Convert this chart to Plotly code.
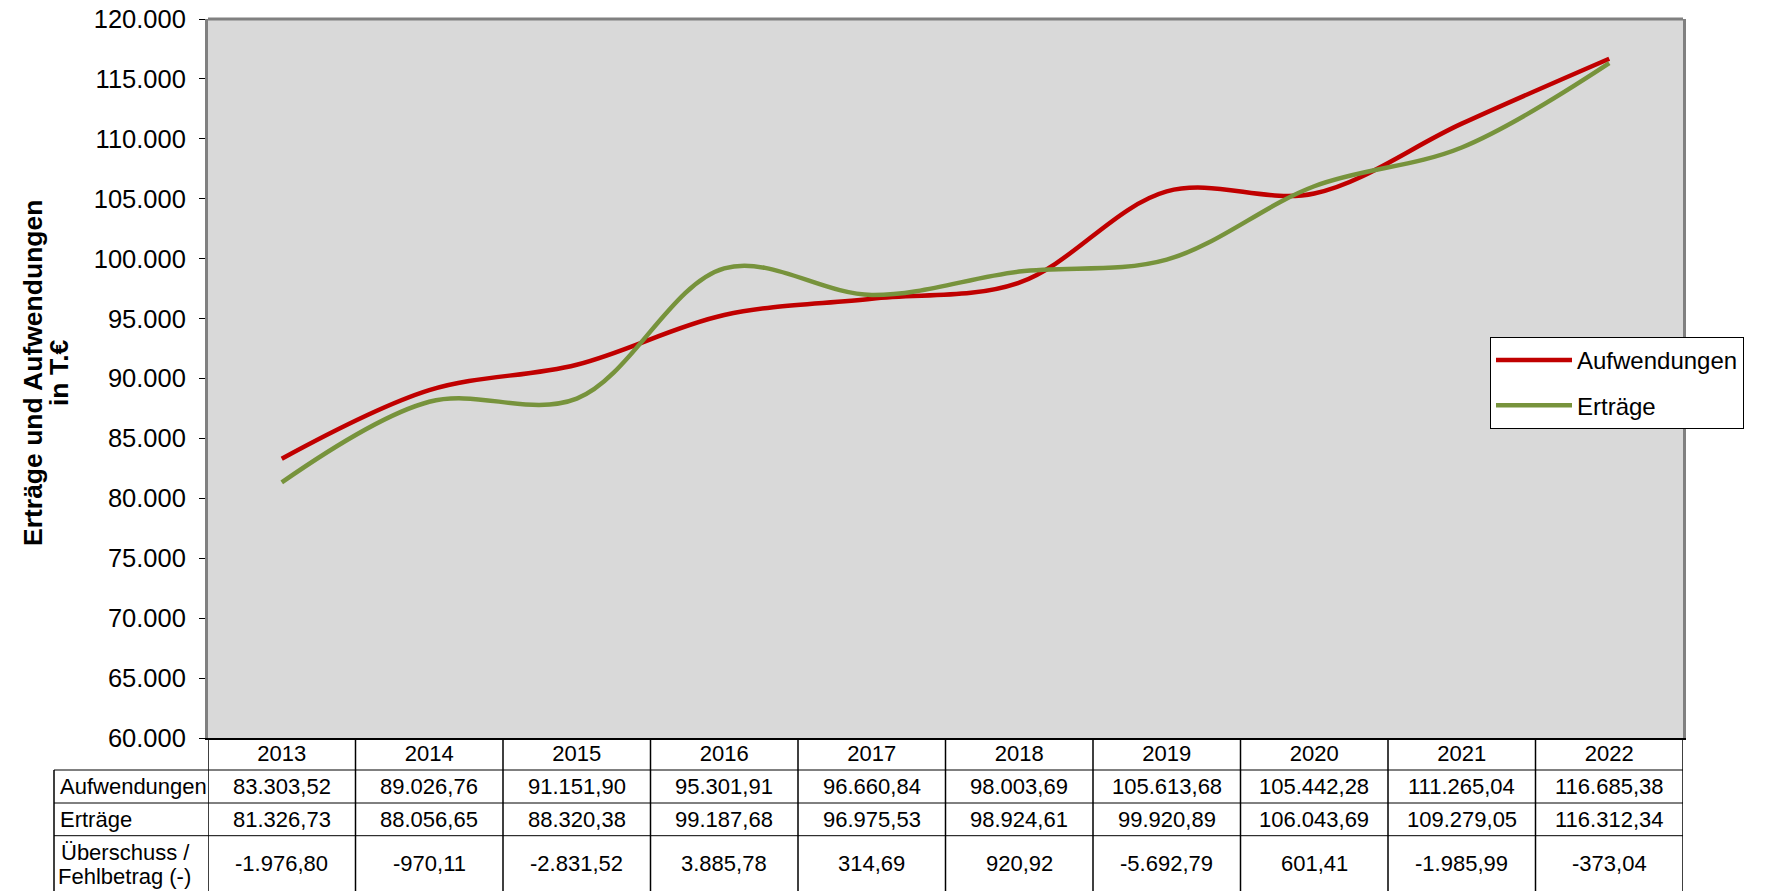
import plotly.graph_objects as go

jahre = ["2013", "2014", "2015", "2016", "2017", "2018", "2019", "2020", "2021", "2022"]
aufwendungen = [83303.52, 89026.76, 91151.90, 95301.91, 96660.84,
                98003.69, 105613.68, 105442.28, 111265.04, 116685.38]
ertraege = [81326.73, 88056.65, 88320.38, 99187.68, 96975.53,
            98924.61, 99920.89, 106043.69, 109279.05, 116312.34]
saldo = [-1976.80, -970.11, -2831.52, 3885.78, 314.69,
         920.92, -5692.79, 601.41, -1985.99, -373.04]

FONT = "Arial, Liberation Sans, sans-serif"
OFF = 8  # page body margin
W, H = 1765 - OFF, 891 - OFF
L, T = 200, 11
PW, PH = 1475, 719
R, B = W - L - PW, H - T - PH


def px_x(p):
    # reference pixel column -> paper x
    return (p - OFF - L) / PW


def px_y(p):
    # reference pixel row -> paper y
    return (T + PH - (p - OFF)) / PH


def de(v):
    s = f"{v:,.2f}"
    return s.replace(",", "X").replace(".", ",").replace("X", ".")


fig = go.Figure()
fig.add_trace(go.Scatter(
    x=jahre, y=aufwendungen, name="Aufwendungen", mode="lines",
    line=dict(color="#C00000", width=4.5, shape="spline", smoothing=1.0),
    legendgroup="a",
))
fig.add_trace(go.Scatter(
    x=jahre, y=ertraege, name="Erträge", mode="lines",
    line=dict(color="#77933C", width=4.5, shape="spline", smoothing=1.0),
    legendgroup="e",
))

shapes = []
# top border of the plot area
shapes.append(dict(type="line", xref="x domain", yref="y domain", x0=0, x1=1, y0=1, y1=1,
                   line=dict(color="#808080", width=3)))

# table grid
for yp in [770, 803, 835.7]:
    shapes.append(dict(type="line", xref="paper", yref="paper", x0=px_x(54), x1=1,
                       y0=px_y(yp), y1=px_y(yp), line=dict(color="black", width=1)))
shapes.append(dict(type="line", xref="paper", yref="paper", x0=px_x(54), x1=px_x(54),
                   y0=px_y(770), y1=px_y(900), line=dict(color="black", width=1.5)))
for i in range(len(jahre) + 1):
    shapes.append(dict(type="line", xref="x", yref="paper", x0=i - 0.5, x1=i - 0.5,
                       y0=0, y1=px_y(900), line=dict(color="black", width=1.5)))

ann = []
tfont = dict(family=FONT, size=22, color="black")
ya, ye, ys = px_y(786.5), px_y(819.4), px_y(863.5)
for i in range(len(jahre)):
    for yy, val in ((ya, aufwendungen[i]), (ye, ertraege[i]), (ys, saldo[i])):
        ann.append(dict(x=i, y=yy, xref="x", yref="paper", text=de(val),
                        showarrow=False, font=tfont, xanchor="center", yanchor="middle"))
ann.append(dict(x=px_x(58), y=ya, xref="paper", yref="paper", text="Aufwendungen",
                showarrow=False, font=tfont, xanchor="left", yanchor="middle"))
ann.append(dict(x=px_x(58), y=ye, xref="paper", yref="paper", text="Erträge",
                showarrow=False, font=tfont, xanchor="left", yanchor="middle"))
ann.append(dict(x=px_x(125), y=px_y(852), xref="paper", yref="paper", text="Überschuss /",
                showarrow=False, font=tfont, xanchor="center", yanchor="middle"))
ann.append(dict(x=px_x(124), y=px_y(876), xref="paper", yref="paper", text="Fehlbetrag (-)",
                showarrow=False, font=tfont, xanchor="center", yanchor="middle"))

# y axis title, two lines
tt = dict(family=FONT, size=26.5, color="black")
ann.append(dict(x=px_x(33), y=px_y(373), xref="paper", yref="paper",
                text="<b>Erträge und Aufwendungen</b>", textangle=-90,
                showarrow=False, font=tt, xanchor="center", yanchor="middle"))
ann.append(dict(x=px_x(59), y=px_y(373), xref="paper", yref="paper",
                text="<b>in T.€</b>", textangle=-90,
                showarrow=False, font=tt, xanchor="center", yanchor="middle"))

fig.update_layout(
    width=W, height=H,
    margin=dict(l=L, r=R, t=T, b=B, autoexpand=False),
    paper_bgcolor="white",
    plot_bgcolor="#D9D9D9",
    separators=",.",
    font=dict(family=FONT, color="black"),
    shapes=shapes,
    annotations=ann,
    showlegend=True,
    legend=dict(
        x=px_x(1490), y=px_y(337), xanchor="left", yanchor="top",
        bgcolor="white", bordercolor="black", borderwidth=1,
        font=dict(family=FONT, size=24, color="black"),
        tracegroupgap=11, traceorder="grouped", itemwidth=76,
        entrywidth=300,
    ),
)
fig.update_xaxes(
    type="category", range=[-0.5, 9.5],
    showgrid=False, showline=True, linecolor="black", linewidth=2,
    ticks="", ticklen=0, ticklabelstandoff=-5,
    tickfont=dict(family=FONT, size=22, color="black"),
)
fig.update_yaxes(
    range=[60000, 120000], dtick=5000, tickformat=",.0f",
    showgrid=False, showline=True, linecolor="#808080", linewidth=3, mirror=True,
    ticks="outside", ticklen=6, tickcolor="black", tickwidth=1,
    ticklabelstandoff=8, ticklabeloverflow="allow",
    tickfont=dict(family=FONT, size=25.5, color="black"),
    zeroline=False,
)

fig.write_html("out.html")
